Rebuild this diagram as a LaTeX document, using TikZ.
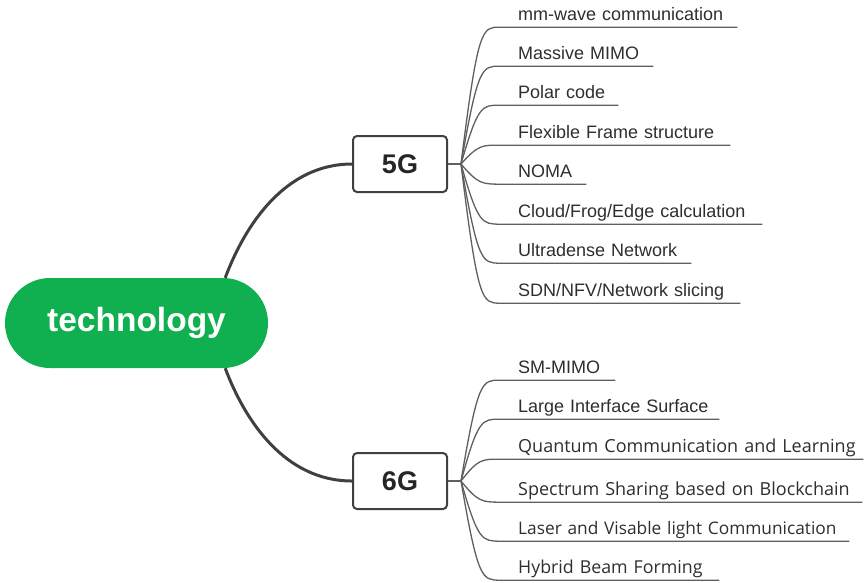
\documentclass[tikz,border=0pt]{standalone}
\usepackage{fontspec}
\setmainfont{Liberation Sans}
\newfontfamily\humfont{Open Sans}
\definecolor{mgreen}{RGB}{16,176,80}
\definecolor{dgray}{RGB}{64,64,64}
\definecolor{lgray}{RGB}{95,95,95}
\begin{document}
\begin{tikzpicture}[x=1pt,y=-1pt,
 rootnode/.style={fill=mgreen, rounded corners=45pt, minimum width=263pt, minimum height=90pt, inner sep=0pt, font=\fontsize{33.5}{36}\selectfont\bfseries, text=white},
 catbox/.style={draw=dgray, line width=2pt, fill=white, rounded corners=4pt, minimum width=94pt, minimum height=56pt, inner sep=0pt, font=\fontsize{27}{30}\selectfont\bfseries, text=black!85},
 trunk/.style={draw=dgray, line width=3pt},
 branch/.style={draw=lgray, line width=1.3pt},
 leaf/.style={anchor=base west, inner xsep=0pt, inner ysep=0pt, text depth=7pt, align=left, font=\fontsize{18}{20}\selectfont, text=black!82},
 hleaf/.style={leaf, font=\humfont\fontsize{#1}{20}\selectfont}
]
\useasboundingbox (0,0) rectangle (864,582);

\node[rootnode] (root) at (136.5,323) {technology};
\node[catbox] (g5) at (400,164) {5G};
\node[catbox] (g6) at (400,481) {6G};

\draw[trunk] (root.27.6) .. controls (245,225) and (285,164) .. (g5.west);
\draw[trunk] (root.-27.6) .. controls (245,421) and (285,481) .. (g6.west);

\coordinate (f5) at (461,164);
\coordinate (f6) at (461,481);
\draw[branch] (g5.east) -- (f5);
\draw[branch] (g6.east) -- (f6);

% 5G leaves
\node[leaf, text width=237pt] (c1) at (500,20) {\hspace*{18pt}\mbox{mm-wave communication}};
\node[leaf, text width=153pt] (c2) at (500,59) {\hspace*{18pt}\mbox{Massive MIMO}};
\node[leaf, text width=118pt] (c3) at (500,98) {\hspace*{18pt}\mbox{Polar code}};
\node[leaf, text width=230pt] (c4) at (500,138) {\hspace*{18pt}\mbox{Flexible Frame structure}};
\node[leaf, text width=86pt] (c5) at (500,177) {\hspace*{18pt}\mbox{NOMA}};
\node[leaf, text width=262pt] (c6) at (500,217) {\hspace*{18pt}\mbox{Cloud/Frog/Edge calculation}};
\node[leaf, text width=191pt] (c7) at (500,256) {\hspace*{18pt}\mbox{Ultradense Network}};
\node[leaf, text width=240pt] (c8) at (500,296) {\hspace*{18pt}\mbox{SDN/NFV/Network slicing}};

\draw[branch] (f5) .. controls (478,27) and (482,27) .. (c1.south west) -- (c1.south east);
\draw[branch] (f5) .. controls (478,66) and (482,66) .. (c2.south west) -- (c2.south east);
\draw[branch] (f5) .. controls (478,105) and (482,105) .. (c3.south west) -- (c3.south east);
\draw[branch] (f5) .. controls (478,145) and (482,145) .. (c4.south west) -- (c4.south east);
\draw[branch] (f5) .. controls (478,184) and (482,184) .. (c5.south west) -- (c5.south east);
\draw[branch] (f5) .. controls (478,224) and (482,224) .. (c6.south west) -- (c6.south east);
\draw[branch] (f5) .. controls (478,263) and (482,263) .. (c7.south west) -- (c7.south east);
\draw[branch] (f5) .. controls (478,303) and (482,303) .. (c8.south west) -- (c8.south east);

% 6G leaves
\node[leaf, text width=115pt] (d1) at (500,373) {\hspace*{18pt}\mbox{SM-MIMO}};
\node[leaf, text width=219pt] (d2) at (500,412) {\hspace*{18pt}\mbox{Large Interface Surface}};
\node[hleaf=18, text width=363pt] (d3) at (500,452) {\hspace*{18pt}\mbox{Quantum Communication and Learning}};
\node[hleaf=18, text width=362pt] (d4) at (500,495) {\hspace*{18pt}\mbox{Spectrum Sharing based on Blockchain}};
\node[hleaf=17.3, text width=349pt] (d5) at (500,534) {\hspace*{18pt}\mbox{Laser and Visable light Communication}};
\node[hleaf=17.8, text width=219pt] (d6) at (500,573) {\hspace*{18pt}\mbox{Hybrid Beam Forming}};

\draw[branch] (f6) .. controls (478,380) and (482,380) .. (d1.south west) -- (d1.south east);
\draw[branch] (f6) .. controls (478,419) and (482,419) .. (d2.south west) -- (d2.south east);
\draw[branch] (f6) .. controls (478,459) and (482,459) .. (d3.south west) -- (d3.south east);
\draw[branch] (f6) .. controls (478,502) and (482,502) .. (d4.south west) -- (d4.south east);
\draw[branch] (f6) .. controls (478,541) and (482,541) .. (d5.south west) -- (d5.south east);
\draw[branch] (f6) .. controls (478,580) and (482,580) .. (d6.south west) -- (d6.south east);
\end{tikzpicture}
\end{document}
